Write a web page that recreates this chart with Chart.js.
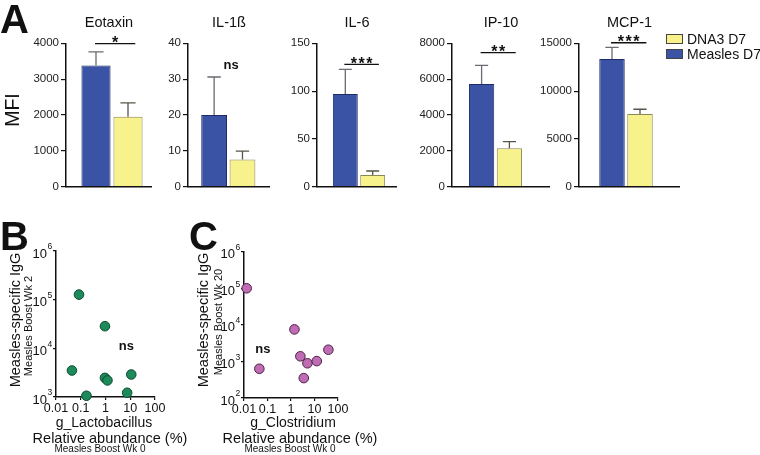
<!DOCTYPE html>
<html><head><meta charset="utf-8">
<script src="https://cdn.jsdelivr.net/npm/chart.js@4.4.1/dist/chart.umd.min.js"></script>
<style>
html,body{margin:0;padding:0;background:#fff;}
#root{position:relative;width:760px;height:455px;overflow:hidden;font-family:"Liberation Sans",Arial,Helvetica,sans-serif;color:#111;}
canvas{position:absolute;}
.t{position:absolute;white-space:nowrap;line-height:1;transform:translate(-50%,-50%);}
.r{transform:translate(-50%,-50%) rotate(-90deg);}
</style></head>
<body><div id="root"></div>
<script>
// ---------- DATA ----------
const cytokines = ['Eotaxin', 'IL-1ß', 'IL-6', 'IP-10', 'MCP-1'];
const seriesNames = ['Measles D7', 'DNA3 D7'];
const measles    = [3380, 20, 97, 5730, 13370];
const measlesSem = [380, 10.6, 25.8, 1040, 1210];
const dna3       = [1950, 7.6, 12.2, 2140, 7610];
const dna3Sem    = [390, 2.3, 4.2, 375, 490];
const yMax       = [4000, 40, 150, 8000, 15000];
const yStep      = [1000, 10, 50, 2000, 5000];
const sigLabel   = ['*', 'ns', '***', '**', '***'];
const sigLevel   = [3990, 33.9, 128, 7475, 15060];

const lactoAbund = [0.085, 0.95, 0.044, 0.95, 1.2, 11, 0.17, 7.5];
const lactoIgG   = [127000, 28500, 3500, 2470, 2190, 2900, 1060, 1220];
const clostAbund = [0.013, 0.045, 1.4, 2.5, 5, 3.5, 12.5, 39];
const clostIgG   = [100000, 630, 7500, 1380, 890, 350, 1020, 2090];
const xTickLabels = ['0.01', '0.1', '1', '10', '100'];
const xTickValues = [0.01, 0.1, 1, 10, 100];

// ---------- STYLE ----------
const FONT = '"Liberation Sans", Arial, Helvetica, sans-serif';
const BLUE = '#3a53a5', BLUE_B = '#1f2b66';
const YEL = '#f8f28c', YEL_B = '#8a8656';
const root = document.getElementById('root');

function addText(txt, x, y, size, opts = {}) {
  const d = document.createElement('div');
  d.className = 't' + (opts.rot ? ' r' : '');
  d.textContent = txt;
  d.style.left = x + 'px'; d.style.top = y + 'px';
  d.style.fontSize = size + 'px';
  if (opts.bold) d.style.fontWeight = 'bold';
  d.style.zIndex = 5;
  root.appendChild(d);
  return d;
}
function addCanvas(left, top, w, h) {
  const c = document.createElement('canvas');
  c.width = w; c.height = h;
  c.style.left = left + 'px'; c.style.top = top + 'px';
  c.style.width = w + 'px'; c.style.height = h + 'px';
  root.appendChild(c);
  return c;
}
function zeroPad(s) { s.paddingTop = 0; s.paddingBottom = 0; s.paddingLeft = 0; s.paddingRight = 0; }

// ---------- PANEL A (layout) ----------
const axisX    = [66, 188, 317, 452, 579];
const lineEnd  = [152, 270, 397, 550, 680];
const groupMid = [112, 228.3, 359.2, 495.5, 626];
const groupW   = [64, 56.7, 55, 55.6, 56];
const AREA_TOP = 43.3, AREA_BOT = 186.7, CH = 200, YW = 60, RP = 6;

const barPlugin = {
  id: 'barDecor',
  afterDatasetsDraw(chart) {
    const ctx = chart.ctx, ys = chart.scales.y, ca = chart.chartArea;
    const i = chart.options.panelIndex;
    const sems = [measlesSem[i], dna3Sem[i]];
    const means = [measles[i], dna3[i]];
    const bars = [0, 1].map(d => chart.getDatasetMeta(d).data[0]);
    const lineLen = lineEnd[i] - axisX[i];
    ctx.save();
    // baseline (x axis line)
    ctx.strokeStyle = '#111'; ctx.lineWidth = 1.5;
    ctx.beginPath(); ctx.moveTo(ca.left - 0.75, ca.bottom); ctx.lineTo(ca.left + lineLen, ca.bottom); ctx.stroke();
    // error bars
    bars.forEach((b, d) => {
      const yTop = ys.getPixelForValue(means[d] + sems[d]);
      ctx.strokeStyle = d === 0 ? '#6a6a72' : '#55554a';
      ctx.lineWidth = 1.3;
      ctx.beginPath();
      ctx.moveTo(b.x, b.y); ctx.lineTo(b.x, yTop);
      const cw = b.width * 0.26;
      ctx.moveTo(b.x - cw, yTop); ctx.lineTo(b.x + cw, yTop);
      ctx.stroke();
    });
    // title
    ctx.fillStyle = '#111';
    ctx.font = '14.5px ' + FONT;
    ctx.textAlign = 'center'; ctx.textBaseline = 'middle';
    ctx.fillText(cytokines[i], ca.left + lineLen / 2, 23);
    // significance
    const x1 = bars[0].x - 1, x2 = bars[1].x + bars[1].width * 0.25;
    const ly = ys.getPixelForValue(sigLevel[i]);
    if (sigLabel[i] === 'ns') {
      ctx.font = 'bold 13px ' + FONT;
      ctx.textBaseline = 'middle';
      ctx.fillText('ns', (x1 + x2) / 2, ly);
    } else {
      ctx.strokeStyle = '#111'; ctx.lineWidth = 1.3;
      ctx.beginPath(); ctx.moveTo(x1, ly); ctx.lineTo(x2, ly); ctx.stroke();
      ctx.font = 'bold 16px ' + FONT;
      ctx.letterSpacing = '1.5px';
      ctx.textBaseline = 'alphabetic';
      ctx.fillText(sigLabel[i], (x1 + x2) / 2 + 0.75, ly + 4.5);
      ctx.letterSpacing = '0px';
    }
    ctx.restore();
  }
};

cytokines.forEach((name, i) => {
  const areaW = 2 * (groupMid[i] - axisX[i]);
  const fullW = Math.max(areaW, lineEnd[i] - axisX[i]) + RP;
  const w = YW + fullW;
  const cv = addCanvas(axisX[i] - YW, 0, w, CH);
  new Chart(cv, {
    type: 'bar',
    data: {
      labels: [name],
      datasets: [
        { label: seriesNames[0], data: [measles[i]], backgroundColor: BLUE, borderColor: BLUE_B, borderWidth: 1 },
        { label: seriesNames[1], data: [dna3[i]], backgroundColor: YEL, borderColor: YEL_B, borderWidth: 1 }
      ]
    },
    plugins: [barPlugin],
    options: {
      panelIndex: i,
      responsive: false, animation: false, events: [],
      categoryPercentage: groupW[i] / areaW, barPercentage: 0.91,
      layout: { padding: { top: AREA_TOP, right: fullW - areaW, bottom: CH - AREA_BOT, left: 0 } },
      plugins: { legend: { display: false }, tooltip: { enabled: false }, title: { display: false } },
      scales: {
        x: {
          grid: { display: false, drawTicks: false },
          border: { display: false },
          ticks: { display: false },
          afterFit(s) { s.height = 0; zeroPad(s); }
        },
        y: {
          min: 0, max: yMax[i],
          ticks: { stepSize: yStep[i], color: '#222', padding: 2, font: { size: 11.5, family: FONT },
            callback: v => String(v) },
          grid: { drawOnChartArea: false, drawTicks: true, tickLength: 5, color: '#111', lineWidth: 1.2 },
          border: { display: true, color: '#111', width: 1.5 },
          afterFit(s) { s.width = YW; zeroPad(s); }
        }
      }
    }
  });
});

// legend
seriesNames.slice().reverse().forEach((nm, k) => {
  const box = document.createElement('div');
  box.style.cssText = 'position:absolute;left:666px;width:15px;height:8px;border:1px solid #444;z-index:5;';
  box.style.top = (34 + k * 15) + 'px';
  box.style.background = nm === 'DNA3 D7' ? YEL : BLUE;
  root.appendChild(box);
  const t = document.createElement('div');
  t.style.cssText = 'position:absolute;left:687px;white-space:nowrap;line-height:1;font-size:14px;z-index:5;';
  t.style.top = (32 + k * 15) + 'px';
  t.textContent = nm;
  root.appendChild(t);
});

addText('MFI', 13, 110, 19.5, { rot: true });

// ---------- PANELS B, C ----------
const logLabelPlugin = {
  id: 'logLabels',
  afterDraw(chart) {
    const ctx = chart.ctx, ys = chart.scales.y, ca = chart.chartArea;
    ctx.save();
    ctx.fillStyle = '#111';
    ys.ticks.forEach(t => {
      const p = ys.getPixelForValue(t.value);
      const e = Math.round(Math.log10(t.value));
      const x0 = ca.left - 9;
      ctx.font = '13px ' + FONT; ctx.textAlign = 'right'; ctx.textBaseline = 'middle';
      ctx.fillText('10', x0, p + 3);
      ctx.font = '8.5px ' + FONT; ctx.textAlign = 'left';
      ctx.fillText(String(e), x0 + 0.5, p - 4);
    });
    const ns = chart.options.nsAt;
    ctx.font = 'bold 13px ' + FONT; ctx.textAlign = 'center'; ctx.textBaseline = 'middle';
    ctx.fillText('ns', chart.scales.x.getPixelForValue(ns[0]), ys.getPixelForValue(ns[1]));
    ctx.restore();
  }
};

function scatterPanel(left, top, areaLeft, areaRight, areaTop, areaBot, xs, ys, yMin, fill, border, nsAt) {
  const YWs = areaLeft - left, RPs = 15, H = 200;
  const w = YWs + (areaRight - areaLeft) + RPs;
  const cv = addCanvas(left, top, w, H);
  const decades = [];
  for (let v = yMin; v <= 1e6; v *= 10) decades.push(v);
  new Chart(cv, {
    type: 'scatter',
    data: { datasets: [{ data: xs.map((x, k) => ({ x, y: ys[k] })), backgroundColor: fill, borderColor: border,
      borderWidth: 1, pointRadius: 4.8, clip: false }] },
    plugins: [logLabelPlugin],
    options: {
      nsAt,
      responsive: false, animation: false, events: [],
      layout: { padding: { top: areaTop - top, right: RPs, bottom: 0, left: 0 } },
      plugins: { legend: { display: false }, tooltip: { enabled: false } },
      scales: {
        x: {
          type: 'logarithmic', min: 0.01, max: 100,
          afterBuildTicks(s) { s.ticks = xTickValues.map(v => ({ value: v })); },
          ticks: { autoSkip: false, maxRotation: 0, color: '#111', padding: 1, font: { size: 12.5, family: FONT },
            callback(v) { const k = xTickValues.findIndex(t => Math.abs(Math.log10(t) - Math.log10(v)) < 1e-6); return k >= 0 ? xTickLabels[k] : ''; } },
          grid: { drawOnChartArea: false, drawTicks: true, tickLength: 3, color: '#111', lineWidth: 1.2 },
          border: { display: true, color: '#111', width: 1.5 },
          afterFit(s) { s.height = top + H - areaBot; zeroPad(s); }
        },
        y: {
          type: 'logarithmic', min: yMin, max: 1e6,
          afterBuildTicks(s) { s.ticks = decades.map(v => ({ value: v })); },
          ticks: { display: false },
          grid: { drawOnChartArea: false, drawTicks: true, tickLength: 3, color: '#111', lineWidth: 1.2 },
          border: { display: true, color: '#111', width: 1.5 },
          afterFit(s) { s.width = YWs; zeroPad(s); }
        }
      }
    }
  });
}

scatterPanel(0, 230, 56, 155, 251, 397, lactoAbund, lactoIgG, 1e3, '#1c8a5a', '#0c4a2e', [7, 11000]);
scatterPanel(188, 230, 244, 338, 251.7, 398, clostAbund, clostIgG, 1e2, '#c06cb4', '#4d2146', [0.063, 2100]);

const letter = (ch, x, y) => { const d = document.createElement('div');
  d.style.cssText = 'position:absolute;font-weight:bold;font-size:40px;line-height:40px;z-index:6;';
  d.style.left = x + 'px'; d.style.top = y + 'px'; d.textContent = ch; root.appendChild(d); };
letter('A', 0, -1); letter('B', 0, 216); letter('C', 189, 216);

addText('Measles-specific IgG', 15, 320, 14.5, { rot: true });
addText('Measles Boost Wk 2', 28, 326, 11, { rot: true });
addText('Measles-specific IgG', 203, 320, 14.5, { rot: true });
addText('Measles Boost Wk 20', 218, 322, 11, { rot: true });
addText('g_Lactobacillus', 104, 422, 14);
addText('Relative abundance (%)', 110, 438, 14.5);
addText('Measles Boost Wk 0', 100, 449, 10);
addText('g_Clostridium', 293, 422, 14);
addText('Relative abundance (%)', 300, 438, 14.5);
addText('Measles Boost Wk 0', 290, 449, 10);
</script></body></html>
